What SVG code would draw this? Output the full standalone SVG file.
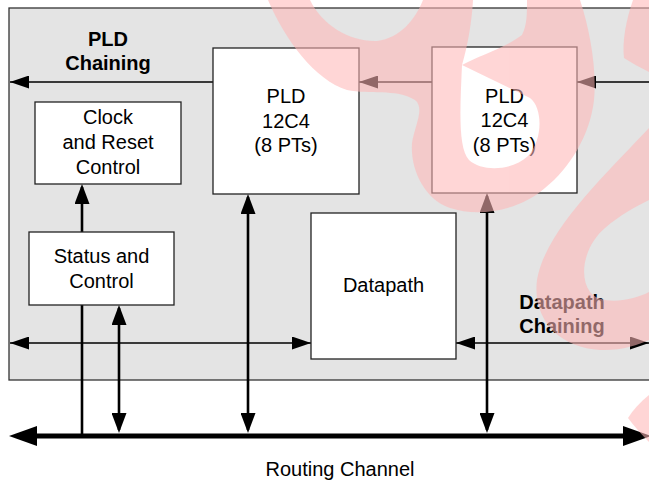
<svg xmlns="http://www.w3.org/2000/svg" width="649" height="481" viewBox="0 0 649 481">
<defs>
<style>
.box{fill:#ffffff;stroke:#222222;stroke-width:1.3}
.t{font-family:"Liberation Sans",Arial,sans-serif;font-size:20px;fill:#000000;text-anchor:middle}
.b{font-weight:bold}
.thin{stroke:#000000;stroke-width:1.3;fill:none}
.thick{stroke:#000000;stroke-width:2.6;fill:none}
.bus{stroke:#000000;stroke-width:5;fill:none}
</style>
<marker id="ah" markerUnits="userSpaceOnUse" viewBox="0 0 19 13" markerWidth="19" markerHeight="13" refX="19" refY="6.5" orient="auto-start-reverse"><path d="M0,0 L19,6.5 L0,13 Z" fill="#000000"/></marker>
<marker id="ahv" markerUnits="userSpaceOnUse" viewBox="0 0 20 15" markerWidth="20" markerHeight="15" refX="17" refY="7.5" orient="auto-start-reverse"><path d="M0,0 L20,7.5 L0,15 Z" fill="#000000"/></marker>
<marker id="ahb" markerUnits="userSpaceOnUse" viewBox="0 0 28 20" markerWidth="28" markerHeight="20" refX="20" refY="10" orient="auto-start-reverse"><path d="M0,0 L28,10 L0,20 Z" fill="#000000"/></marker>
</defs>
<rect width="649" height="481" fill="#ffffff"/>
<rect id="module" x="9" y="8" width="660" height="372" fill="#e4e4e4" stroke="#333333" stroke-width="1.3"/>

<g id="pld-chaining-label">
<text class="t b" x="108" y="46">PLD</text>
<text class="t b" x="108" y="70">Chaining</text>
</g>
<g id="datapath-chaining-label">
<text class="t b" x="562" y="308.5">Datapath</text>
<text class="t b" x="562" y="332.5">Chaining</text>
</g>

<g id="connectors">
<line class="thin" x1="213" y1="82" x2="10" y2="82" marker-end="url(#ah)"/>
<line class="thin" x1="432" y1="82" x2="359" y2="82" marker-end="url(#ah)"/>
<line class="thin" x1="649" y1="82" x2="577" y2="82" marker-end="url(#ah)"/>
<line class="thin" x1="10" y1="343" x2="311" y2="343" marker-start="url(#ah)" marker-end="url(#ah)"/>
<line class="thin" x1="456" y1="343" x2="649" y2="343" marker-start="url(#ah)" marker-end="url(#ah)"/>
<line class="thick" x1="82" y1="232" x2="82" y2="187" marker-end="url(#ahv)"/>
<line class="thick" x1="82" y1="305" x2="82" y2="436"/>
<line class="thick" x1="119" y1="308" x2="119" y2="430" marker-start="url(#ahv)" marker-end="url(#ahv)"/>
<line class="thick" x1="248" y1="197" x2="248" y2="430" marker-start="url(#ahv)" marker-end="url(#ahv)"/>
<line class="thick" x1="487" y1="196" x2="487" y2="430" marker-start="url(#ahv)" marker-end="url(#ahv)"/>
<line class="bus" x1="17" y1="436" x2="643" y2="436" marker-start="url(#ahb)" marker-end="url(#ahb)"/>
</g>

<g id="clock-reset">
<rect class="box" x="35" y="102" width="146" height="82"/>
<text class="t" x="108" y="124">Clock</text>
<text class="t" x="108" y="149">and Reset</text>
<text class="t" x="108" y="174">Control</text>
</g>
<g id="status-control">
<rect class="box" x="29" y="232" width="145" height="73"/>
<text class="t" x="101.5" y="262.5">Status and</text>
<text class="t" x="101.5" y="288">Control</text>
</g>
<g id="pld1">
<rect class="box" x="213" y="48" width="146" height="146"/>
<text class="t" x="286" y="103">PLD</text>
<text class="t" x="286" y="127.5">12C4</text>
<text class="t" x="286" y="152">(8 PTs)</text>
</g>
<g id="pld2">
<rect class="box" x="432" y="47" width="145" height="146"/>
<text class="t" x="504.5" y="102.5">PLD</text>
<text class="t" x="504.5" y="127">12C4</text>
<text class="t" x="504.5" y="151.5">(8 PTs)</text>
</g>
<g id="datapath">
<rect class="box" x="311" y="213" width="145" height="146"/>
<text class="t" x="383.5" y="292">Datapath</text>
</g>
<g id="routing-label">
<text class="t" x="340" y="476">Routing Channel</text>
</g>

<g id="watermark" fill="#ffb7b7" opacity="0.57" fill-rule="evenodd">
<path d="M268,0 C285,40 315,80 347,90 C370,95 395,88 415,100 C425,108 415,125 412,143 C410,170 425,200 450,208 C480,218 520,210 545,188 C570,168 590,135 594,100 C597,70 590,30 580,0 L527,0 C527,15 527,25 522,35 C505,48 480,55 462,65 C468,45 472,20 473,0 L423,0 C415,20 400,38 377,41 C350,42 322,25 310,0 Z M462,65 L530,98 C543,108 543,140 528,156 C512,171 482,172 469,160 C458,148 460,110 462,65 Z"/>
<path d="M633,0 C626,20 622,42 624,58 C632,63 641,68 649,72 L649,0 Z"/>
<path d="M649,128 C610,170 545,230 537,280 C532,320 560,348 600,350 C620,351 638,345 649,340 L649,292 C630,302 600,305 590,292 C578,275 585,245 605,228 C620,215 635,207 649,200 Z"/>
<path d="M649,395 C640,402 633,410 628,418 C634,426 641,434 649,442 Z"/>
</g>
</svg>
